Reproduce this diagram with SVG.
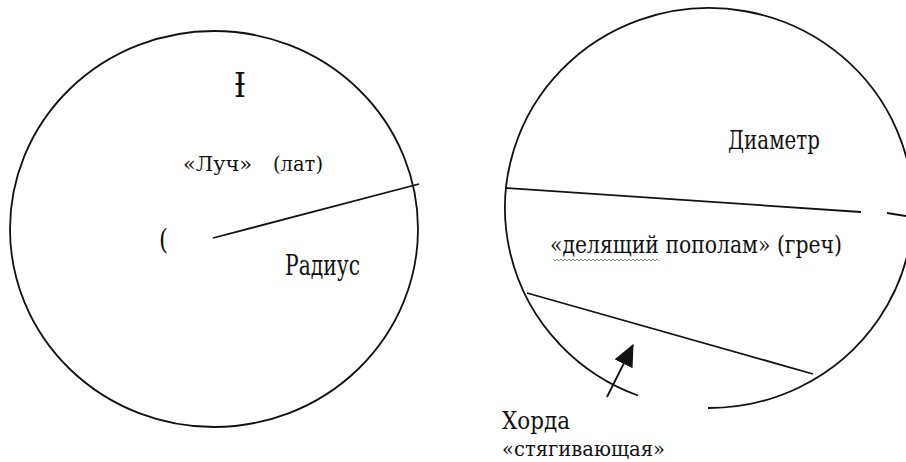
<svg xmlns="http://www.w3.org/2000/svg" width="906" height="462" viewBox="0 0 906 462">
<style>
.ln{fill:none;stroke:#111;stroke-width:1.8}
.t{font-family:"DejaVu Serif","Liberation Serif",serif;fill:#111}
</style>
<defs>
<marker id="ah" markerUnits="userSpaceOnUse" markerWidth="22" markerHeight="20" viewBox="0 0 22 20" refX="21" refY="10" orient="auto">
<path d="M0,0 L22,10 L0,20 z" fill="#111"/>
</marker>
</defs>
<rect width="906" height="462" fill="#fff"/>
<g id="circle-radius">
<ellipse class="ln" cx="214" cy="229" rx="204" ry="198"/>
<text class="t" x="234" y="97" font-size="33" textLength="12" lengthAdjust="spacingAndGlyphs">Ɨ</text>
<text class="t" x="159" y="249" font-size="27" textLength="9" lengthAdjust="spacingAndGlyphs">(</text>
<text class="t" y="171" font-size="20"><tspan x="183" textLength="69" lengthAdjust="spacingAndGlyphs">«Луч»</tspan><tspan x="273" textLength="50" lengthAdjust="spacingAndGlyphs">(лат)</tspan></text>
<text class="t" x="285" y="275" font-size="28" textLength="75" lengthAdjust="spacingAndGlyphs">Радиус</text>
</g>
<g id="circle-diameter">
<path class="ln" d="M638,395.5 A204,200 0 1 1 708,408"/>
<text class="t" x="728" y="149" font-size="26" textLength="92" lengthAdjust="spacingAndGlyphs">Диаметр</text>
<text class="t" x="550" y="253" font-size="25" textLength="292" lengthAdjust="spacingAndGlyphs">«делящий пополам» (греч)</text>
<path d="M553,259 l2,2 l2,-2 l2,2 l2,-2 l2,2 l2,-2 l2,2 l2,-2 l2,2 l2,-2 l2,2 l2,-2 l2,2 l2,-2 l2,2 l2,-2 l2,2 l2,-2 l2,2 l2,-2 l2,2 l2,-2 l2,2 l2,-2 l2,2 l2,-2 l2,2 l2,-2 l2,2 l2,-2 l2,2 l2,-2 l2,2 l2,-2 l2,2 l2,-2 l2,2 l2,-2 l2,2 l2,-2 l2,2 l2,-2 l2,2 l2,-2 l2,2 l2,-2 l2,2 l2,-2 l2,2 l2,-2 l2,2 l2,-2 l2,2" fill="none" stroke="#6aa56a" stroke-width="1"/>
<text class="t" x="502" y="429" font-size="24" textLength="68" lengthAdjust="spacingAndGlyphs">Хорда</text>
<text class="t" x="502" y="456" font-size="21" textLength="163" lengthAdjust="spacingAndGlyphs">«стягивающая»</text>
</g>
<g id="connectors">
<line class="ln" x1="213" y1="238" x2="419" y2="184"/>
<line class="ln" x1="505" y1="188" x2="861" y2="212"/>
<line class="ln" x1="887" y1="213" x2="906" y2="216"/>
<line class="ln" x1="527" y1="293" x2="813" y2="374"/>
<line class="ln" x1="607" y1="397" x2="633" y2="345" marker-end="url(#ah)"/>
</g>
</svg>
